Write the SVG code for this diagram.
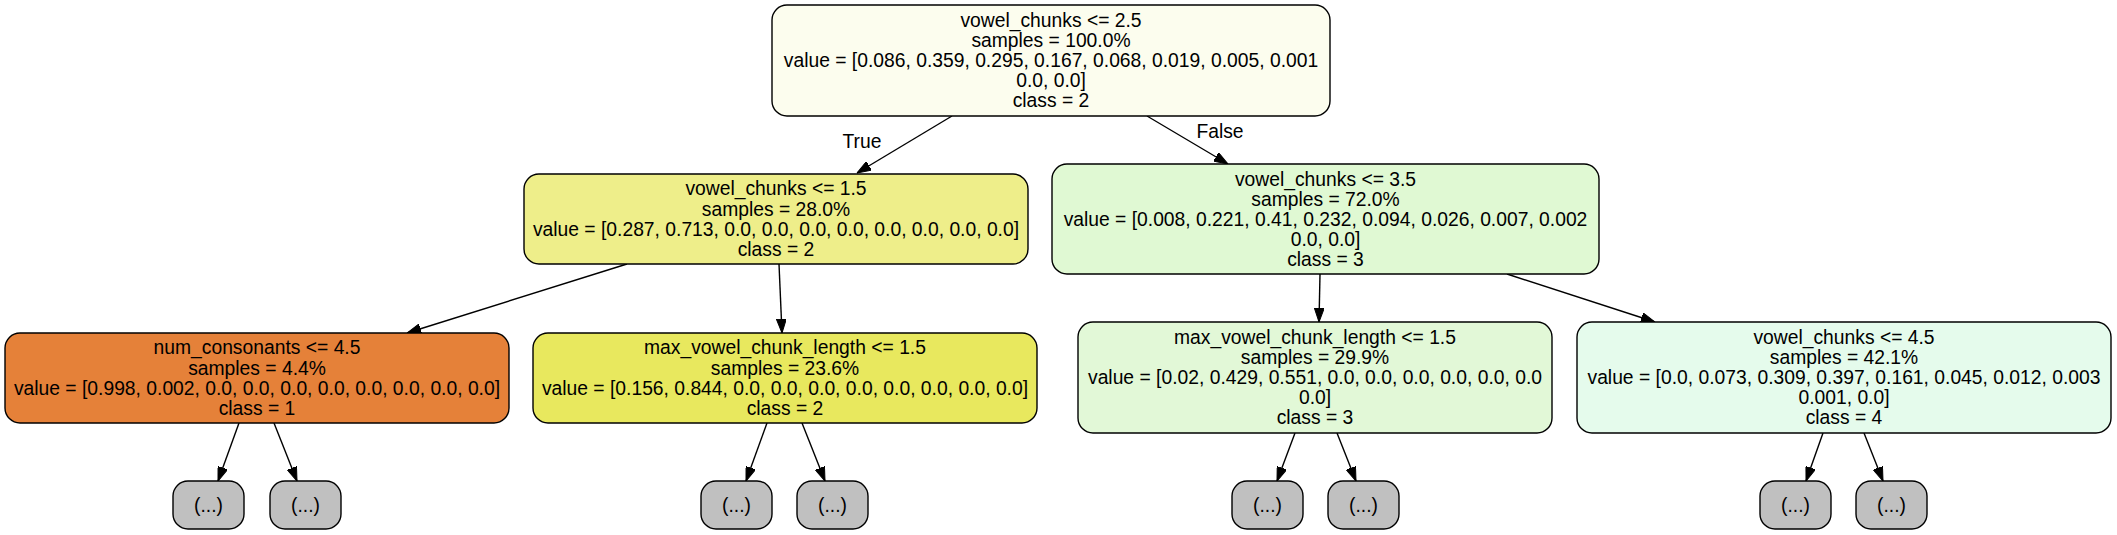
<svg xmlns="http://www.w3.org/2000/svg" width="2117" height="535" viewBox="0 0 2117 535">
<style>
.box{stroke:#000;stroke-width:1.4}
.t{font-family:"Liberation Sans",Arial,Helvetica,sans-serif;font-size:19.3px;fill:#000;text-anchor:middle}
.e{stroke:#000;stroke-width:1.4;fill:none;marker-end:url(#arr)}
.leaf{fill:#c0c0c0}
</style>
<defs>
<marker id="arr" markerUnits="userSpaceOnUse" markerWidth="14" markerHeight="10" refX="14" refY="5" orient="auto">
<path d="M0,0 L14,5 L0,10 z" fill="#000" stroke="#000" stroke-width="1"/>
</marker>
</defs>
<rect width="2117" height="535" fill="#fff"/>
<g id="connectors">
<line class="e" x1="952" y1="116" x2="857" y2="173"/>
<line class="e" x1="1147" y1="116" x2="1228" y2="164"/>
<line class="e" x1="627" y1="264" x2="407" y2="333"/>
<line class="e" x1="779" y1="264" x2="782" y2="333"/>
<line class="e" x1="1320" y1="274" x2="1319" y2="322"/>
<line class="e" x1="1507" y1="274" x2="1655" y2="322"/>
<line class="e" x1="239" y1="423" x2="218" y2="481"/>
<line class="e" x1="274" y1="423" x2="297" y2="481"/>
<line class="e" x1="767" y1="423" x2="746" y2="481"/>
<line class="e" x1="802" y1="423" x2="825" y2="481"/>
<line class="e" x1="1295" y1="433" x2="1277" y2="481"/>
<line class="e" x1="1337" y1="433" x2="1356" y2="481"/>
<line class="e" x1="1823" y1="433" x2="1806" y2="481"/>
<line class="e" x1="1864" y1="433" x2="1883" y2="481"/>
<text class="t" x="862" y="148">True</text>
<text class="t" x="1220" y="138">False</text>
</g>
<g id="n0">
<rect class="box" x="772" y="5" width="558" height="111" rx="15" fill="#fcfdee"/>
<text class="t" x="1051" y="27">vowel_chunks &lt;= 2.5</text>
<text class="t" x="1051" y="47">samples = 100.0%</text>
<text class="t" x="1051" y="67">value = [0.086, 0.359, 0.295, 0.167, 0.068, 0.019, 0.005, 0.001</text>
<text class="t" x="1051" y="87">0.0, 0.0]</text>
<text class="t" x="1051" y="107">class = 2</text>
</g>
<g id="n1">
<rect class="box" x="524" y="174" width="504" height="90" rx="15" fill="#eeee8a"/>
<text class="t" x="776" y="195">vowel_chunks &lt;= 1.5</text>
<text class="t" x="776" y="215.5">samples = 28.0%</text>
<text class="t" x="776" y="236">value = [0.287, 0.713, 0.0, 0.0, 0.0, 0.0, 0.0, 0.0, 0.0, 0.0]</text>
<text class="t" x="776" y="256">class = 2</text>
</g>
<g id="n2">
<rect class="box" x="1052" y="164" width="547" height="110" rx="15" fill="#e0f9d3"/>
<text class="t" x="1325.5" y="186">vowel_chunks &lt;= 3.5</text>
<text class="t" x="1325.5" y="206">samples = 72.0%</text>
<text class="t" x="1325.5" y="226">value = [0.008, 0.221, 0.41, 0.232, 0.094, 0.026, 0.007, 0.002</text>
<text class="t" x="1325.5" y="246">0.0, 0.0]</text>
<text class="t" x="1325.5" y="266">class = 3</text>
</g>
<g id="n3">
<rect class="box" x="5" y="333" width="504" height="90" rx="15" fill="#e58139"/>
<text class="t" x="257" y="354">num_consonants &lt;= 4.5</text>
<text class="t" x="257" y="374.5">samples = 4.4%</text>
<text class="t" x="257" y="395">value = [0.998, 0.002, 0.0, 0.0, 0.0, 0.0, 0.0, 0.0, 0.0, 0.0]</text>
<text class="t" x="257" y="415">class = 1</text>
</g>
<g id="n4">
<rect class="box" x="533" y="333" width="504" height="90" rx="15" fill="#e8e85e"/>
<text class="t" x="785" y="354">max_vowel_chunk_length &lt;= 1.5</text>
<text class="t" x="785" y="374.5">samples = 23.6%</text>
<text class="t" x="785" y="395">value = [0.156, 0.844, 0.0, 0.0, 0.0, 0.0, 0.0, 0.0, 0.0, 0.0]</text>
<text class="t" x="785" y="415">class = 2</text>
</g>
<g id="n5">
<rect class="box" x="1078" y="322" width="474" height="111" rx="15" fill="#e2f8d7"/>
<text class="t" x="1315" y="344">max_vowel_chunk_length &lt;= 1.5</text>
<text class="t" x="1315" y="364">samples = 29.9%</text>
<text class="t" x="1315" y="384">value = [0.02, 0.429, 0.551, 0.0, 0.0, 0.0, 0.0, 0.0, 0.0</text>
<text class="t" x="1315" y="404">0.0]</text>
<text class="t" x="1315" y="424">class = 3</text>
</g>
<g id="n6">
<rect class="box" x="1577" y="322" width="534" height="111" rx="15" fill="#e5fbec"/>
<text class="t" x="1844" y="344">vowel_chunks &lt;= 4.5</text>
<text class="t" x="1844" y="364">samples = 42.1%</text>
<text class="t" x="1844" y="384">value = [0.0, 0.073, 0.309, 0.397, 0.161, 0.045, 0.012, 0.003</text>
<text class="t" x="1844" y="404">0.001, 0.0]</text>
<text class="t" x="1844" y="424">class = 4</text>
</g>
<g id="l1"><rect class="box leaf" x="173" y="481" width="71" height="48" rx="15"/><text class="t" x="208.5" y="512">(...)</text></g>
<g id="l2"><rect class="box leaf" x="270" y="481" width="71" height="48" rx="15"/><text class="t" x="305.5" y="512">(...)</text></g>
<g id="l3"><rect class="box leaf" x="701" y="481" width="71" height="48" rx="15"/><text class="t" x="736.5" y="512">(...)</text></g>
<g id="l4"><rect class="box leaf" x="797" y="481" width="71" height="48" rx="15"/><text class="t" x="832.5" y="512">(...)</text></g>
<g id="l5"><rect class="box leaf" x="1232" y="481" width="71" height="48" rx="15"/><text class="t" x="1267.5" y="512">(...)</text></g>
<g id="l6"><rect class="box leaf" x="1328" y="481" width="71" height="48" rx="15"/><text class="t" x="1363.5" y="512">(...)</text></g>
<g id="l7"><rect class="box leaf" x="1760" y="481" width="71" height="48" rx="15"/><text class="t" x="1795.5" y="512">(...)</text></g>
<g id="l8"><rect class="box leaf" x="1856" y="481" width="71" height="48" rx="15"/><text class="t" x="1891.5" y="512">(...)</text></g>
</svg>
